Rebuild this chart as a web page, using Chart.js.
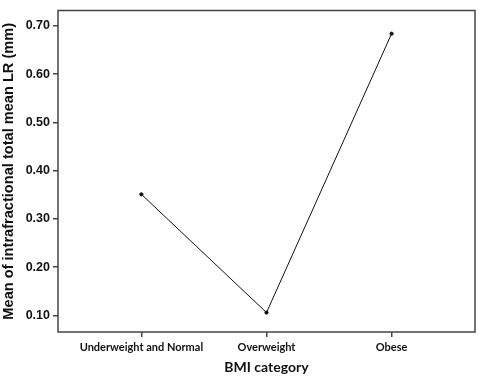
<!DOCTYPE html>
<html><head><meta charset="utf-8">
<script src="https://cdn.jsdelivr.net/npm/chart.js@4"></script>
<style>html,body{margin:0;padding:0;background:#fff}#wrap{width:480px;height:376px}</style>
</head><body><div id="wrap"><canvas id="c" width="480" height="376"></canvas></div>
<script>
const categories = ["Underweight and Normal", "Overweight", "Obese"];
const meanLR = [0.351, 0.106, 0.684];
const yTicks = [0.10, 0.20, 0.30, 0.40, 0.50, 0.60, 0.70];

const frame = {
  id: 'frame',
  afterDatasetsDraw(chart) {
    const a = chart.chartArea, ctx = chart.ctx;
    ctx.save();
    ctx.strokeStyle = '#444';
    ctx.lineWidth = 1.5;
    ctx.strokeRect(a.left, a.top, a.right - a.left, a.bottom - a.top);
    ctx.restore();
  }
};

new Chart(document.getElementById('c'), {
  type: 'line',
  data: {
    datasets: [{
      data: meanLR.map((v, i) => ({x: i, y: v})),
      borderColor: '#111',
      borderWidth: 1,
      pointRadius: 1.6,
      pointBackgroundColor: '#111',
      pointBorderColor: '#111',
      tension: 0
    }]
  },
  options: {
    responsive: false,
    animation: false,
    layout: {padding: {top: 2, right: 2, left: 0, bottom: 0}},
    plugins: {legend: {display: false}, tooltip: {enabled: false}},
    scales: {
      x: {
        type: 'linear',
        min: -0.6667, max: 2.6667,
        afterBuildTicks(s) { s.ticks = categories.map((_, i) => ({value: i})); },
        afterFit(s) { s.height = 44; },
        grid: {display: true, drawOnChartArea: false, drawTicks: true, tickLength: 5, color: '#444', lineWidth: 1.5},
        border: {display: false},
        ticks: {
          color: '#111', padding: 4,
          font: {family: 'Lato', weight: 'bold', size: 11},
          callback: (v) => categories[v] ?? ''
        },
        title: {display: true, text: 'BMI category', color: '#111', padding: {top: 5, bottom: 0},
          font: {family: 'Lato', weight: 'bold', size: 14}}
      },
      y: {
        min: 0.0657, max: 0.732,
        afterBuildTicks(s) { s.ticks = yTicks.map(v => ({value: v})); },
        afterFit(s) { s.width = 58; },
        grid: {display: true, drawOnChartArea: false, drawTicks: true, tickLength: 5, color: '#444', lineWidth: 1.5},
        border: {display: false},
        ticks: {
          color: '#111', padding: 3,
          font: {family: 'Liberation Sans', weight: 'bold', size: 12.5},
          callback: (v) => v.toFixed(2)
        },
        title: {display: true, text: 'Mean of intrafractional total mean LR (mm)', color: '#111', padding: {top: 0, bottom: 2},
          font: {family: 'Liberation Sans', weight: 'bold', size: 14.6}}
      }
    }
  },
  plugins: [frame]
});
</script></body></html>
